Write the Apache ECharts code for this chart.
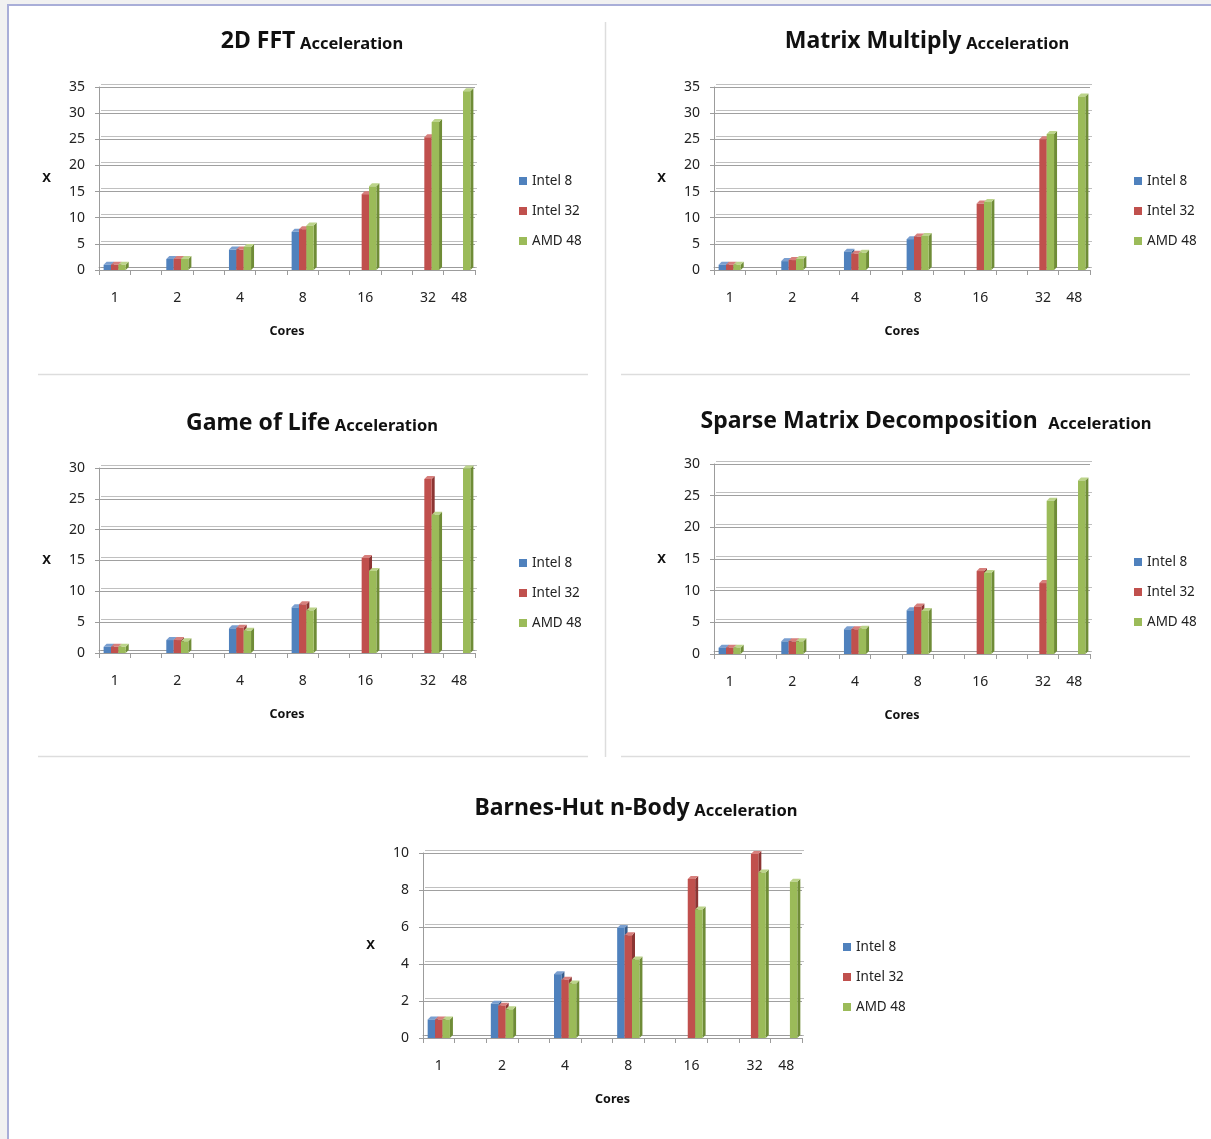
<!DOCTYPE html>
<html>
<head>
<meta charset="utf-8">
<script src="https://cdn.jsdelivr.net/npm/echarts@6/dist/echarts.min.js"></script>
<style>
  html, body { margin: 0; padding: 0; background: #f1f1f1; }
  #frame { position: absolute; left: 7px; top: 4px; width: 1220px; height: 1150px;
           border-left: 2px solid #a9aed8; border-top: 2px solid #a9aed8; background: #fff; }
  #chart { position: absolute; left: 0; top: 0; width: 1211px; height: 1139px; }
</style>
</head>
<body>
<div id="frame"></div>
<div id="chart"></div>
<script>
// Category slots along the x axis (48 shares the last slot with 32)
const coreBins = ['1', '', '2', '', '4', '', '8', '', '16', '', '32', '48'];
const cores = ['1', '2', '4', '8', '16', '32', '48'];
const seriesNames = ['Intel 8', 'Intel 32', 'AMD 48'];

// 2D FFT speed-up
const fftIntel8  = [1.0, 2.1, 3.9, 7.3, null, null, null];
const fftIntel32 = [1.0, 2.1, 3.9, 7.8, 14.5, 25.4, null];
const fftAmd48   = [1.0, 2.1, 4.4, 8.5, 16.0, 28.3, 34.2];

// Matrix multiply speed-up
const mmIntel8  = [1.0, 1.7, 3.5, 5.9, null, null, null];
const mmIntel32 = [1.0, 1.9, 3.1, 6.4, 12.7, 25.0, null];
const mmAmd48   = [1.0, 2.1, 3.3, 6.5, 13.0, 26.0, 33.2];

// Game of Life speed-up
const golIntel8  = [1.0, 2.1, 4.0, 7.4, null, null, null];
const golIntel32 = [1.0, 2.1, 4.1, 7.9, 15.4, 28.2, null];
const golAmd48   = [1.0, 1.9, 3.6, 6.9, 13.3, 22.4, 29.9];

// Sparse matrix decomposition speed-up
const smdIntel8  = [1.0, 2.0, 3.9, 6.9, null, null, null];
const smdIntel32 = [1.0, 2.0, 3.9, 7.5, 13.1, 11.2, null];
const smdAmd48   = [1.0, 2.0, 4.0, 6.8, 12.8, 24.2, 27.4];

// Barnes-Hut n-body speed-up
const bhIntel8  = [1.0, 1.85, 3.45, 5.95, null, null, null];
const bhIntel32 = [1.0, 1.75, 3.15, 5.55, 8.6, 9.95, null];
const bhAmd48   = [1.0, 1.55, 2.95, 4.25, 6.95, 8.95, 8.45];

// Y axis ranges
const fftTicks = { max: 35, step: 5 };
const mmTicks  = { max: 35, step: 5 };
const golTicks = { max: 30, step: 5 };
const smdTicks = { max: 30, step: 5 };
const bhTicks  = { max: 10, step: 2 };

const FONT = "'Noto Sans', 'DejaVu Sans', sans-serif";
const palette = [
  { front: '#4f81bd', side: '#375d8c', top: '#7a9fd0' },
  { front: '#c0504d', side: '#8c3533', top: '#d77f7c' },
  { front: '#9bbb59', side: '#6f8c37', top: '#bcd48a' }
];

const panels = [
  { title: '2D FFT', values: [fftIntel8, fftIntel32, fftAmd48], ticks: fftTicks,
    grid: { left: 99, top: 87, width: 376, height: 183 }, titleX: 307, titleY: 18, legend: [519, 173] },
  { title: 'Matrix Multiply', values: [mmIntel8, mmIntel32, mmAmd48], ticks: mmTicks,
    grid: { left: 714, top: 87, width: 376, height: 183 }, titleX: 922, titleY: 18, legend: [1134, 173] },
  { title: 'Game of Life', values: [golIntel8, golIntel32, golAmd48], ticks: golTicks,
    grid: { left: 99, top: 468, width: 376, height: 185 }, titleX: 307, titleY: 400, legend: [519, 555] },
  { title: 'Sparse Matrix Decomposition ', values: [smdIntel8, smdIntel32, smdAmd48], ticks: smdTicks,
    grid: { left: 714, top: 464, width: 376, height: 190 }, titleX: 921, titleY: 398, legend: [1134, 554] },
  { title: 'Barnes-Hut n-Body', values: [bhIntel8, bhIntel32, bhAmd48], ticks: bhTicks,
    grid: { left: 423, top: 853, width: 379, height: 185 }, titleX: 631, titleY: 785, legend: [843, 939] }
];

// Column with a shaded side and top face, placed within its category slot
function columnRenderer(slot) {
  return function (params, api) {
    const v = api.value(1);
    if (v == null || isNaN(v)) return;
    const top = api.coord([api.value(0), v]);
    const base = api.coord([api.value(0), 0]);
    const band = api.size([1, 0])[0];
    const w = band * 0.235;
    const x0 = top[0] - 1.5 * w + slot * w;
    const d = 3, dy = 3;
    const c = palette[slot];
    return {
      type: 'group',
      children: [
        { type: 'polygon', shape: { points: [[x0 + w, top[1]], [x0 + w + d, top[1] - dy], [x0 + w + d, base[1] - dy], [x0 + w, base[1]]] },
          style: { fill: c.side } },
        { type: 'polygon', shape: { points: [[x0, top[1]], [x0 + d, top[1] - dy], [x0 + w + d, top[1] - dy], [x0 + w, top[1]]] },
          style: { fill: c.top } },
        { type: 'rect', shape: { x: x0, y: top[1], width: w, height: base[1] - top[1] },
          style: { fill: c.front } }
      ]
    };
  };
}

const option = {
  backgroundColor: 'transparent',
  animation: false,
  textStyle: { fontFamily: FONT },
  title: [], legend: [], grid: [], xAxis: [], yAxis: [], series: [],
  graphic: [
    { type: 'line', shape: { x1: 605.5, y1: 22, x2: 605.5, y2: 757 }, style: { stroke: '#dddddd', lineWidth: 1.5 } },
    { type: 'line', shape: { x1: 38, y1: 374.5, x2: 588, y2: 374.5 }, style: { stroke: '#dddddd', lineWidth: 1.5 } },
    { type: 'line', shape: { x1: 621, y1: 374.5, x2: 1190, y2: 374.5 }, style: { stroke: '#dddddd', lineWidth: 1.5 } },
    { type: 'line', shape: { x1: 38, y1: 756.5, x2: 588, y2: 756.5 }, style: { stroke: '#dddddd', lineWidth: 1.5 } },
    { type: 'line', shape: { x1: 621, y1: 756.5, x2: 1190, y2: 756.5 }, style: { stroke: '#dddddd', lineWidth: 1.5 } }
  ]
};

panels.forEach(function (p, i) {
  option.title.push({
    text: '{a|' + p.title + '} {b|Acceleration}',
    left: p.titleX, top: p.titleY, textAlign: 'center',
    textStyle: {
      rich: {
        a: { fontFamily: FONT, fontSize: 23, fontWeight: 'bold', color: '#111', verticalAlign: 'bottom', lineHeight: 30 },
        b: { fontFamily: FONT, fontSize: 16.5, fontWeight: 'bold', color: '#111', verticalAlign: 'bottom', lineHeight: 25 }
      }
    }
  });
  option.legend.push({
    data: seriesNames, orient: 'vertical', left: p.legend[0], top: p.legend[1], padding: 0,
    icon: 'rect', itemWidth: 8, itemHeight: 8, itemGap: 14, selectedMode: false,
    textStyle: { fontFamily: FONT, fontSize: 13.5, color: '#222', lineHeight: 16 }
  });
  option.grid.push(Object.assign({ containLabel: false }, p.grid));
  option.xAxis.push({
    type: 'category', gridIndex: i, data: coreBins, boundaryGap: true,
    name: 'Cores', nameLocation: 'middle', nameGap: 55,
    nameTextStyle: { fontFamily: FONT, fontSize: 12.5, fontWeight: 'bold', color: '#111' },
    axisLine: { lineStyle: { color: '#9c9c9c', width: 1, shadowColor: 'rgba(140,140,140,0.7)', shadowOffsetY: -3 } },
    axisTick: { show: true, interval: 0, length: 5, lineStyle: { color: '#9c9c9c' } },
    axisLabel: { interval: 0, margin: 21, fontFamily: FONT, fontSize: 14, color: '#222' },
    splitLine: { show: false }
  });
  option.yAxis.push({
    type: 'value', gridIndex: i, min: 0, max: p.ticks.max, interval: p.ticks.step,
    name: 'X', nameLocation: 'middle', nameRotate: 0, nameGap: 48,
    nameTextStyle: { fontFamily: FONT, fontSize: 13, fontWeight: 'bold', color: '#111' },
    axisLine: { show: true, lineStyle: { color: '#9c9c9c' } },
    axisTick: { show: true, length: 4, lineStyle: { color: '#9c9c9c' } },
    axisLabel: { margin: 14, fontFamily: FONT, fontSize: 14, color: '#222' },
    splitLine: { show: true, lineStyle: { color: '#a0a0a0', width: 1, shadowColor: 'rgba(150,150,150,0.6)', shadowOffsetY: -3, shadowOffsetX: 2 } }
  });
  p.values.forEach(function (vals, s) {
    option.series.push({
      type: 'custom', name: seriesNames[s], xAxisIndex: i, yAxisIndex: i,
      itemStyle: { color: palette[s].front },
      renderItem: columnRenderer(s),
      data: cores.map(function (c, k) { return [coreBins.indexOf(c), vals[k]]; })
    });
  });
});

const chart = echarts.init(document.getElementById('chart'), null, { renderer: 'canvas' });
chart.setOption(option);
</script>
</body>
</html>
